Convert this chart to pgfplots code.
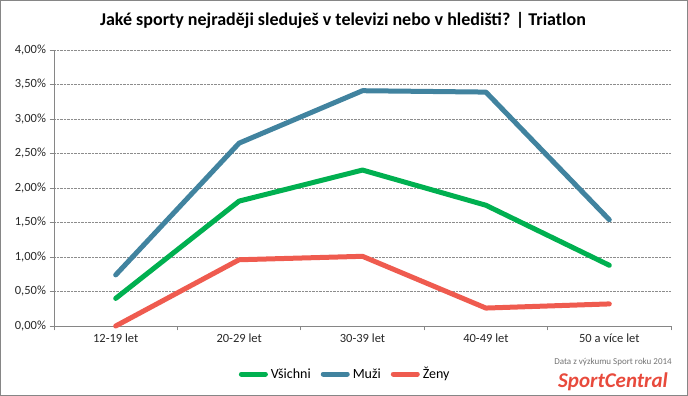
\documentclass[border=0pt]{standalone}
\usepackage{fontspec}
\setmainfont{Carlito}
\usepackage{pgfplots}
\pgfplotsset{compat=1.18}
\definecolor{cgreen}{HTML}{00B050}
\definecolor{cblue}{HTML}{41839F}
\definecolor{cred}{HTML}{EF5B4F}
\definecolor{axisgray}{HTML}{868686}
\definecolor{gridgray}{HTML}{8C8C8C}
\definecolor{logored}{HTML}{E84A3C}
\begin{document}
\begin{tikzpicture}
\useasboundingbox (0,0) rectangle (688pt,396pt);
\draw[axisgray, line width=1pt] (0.5pt,0.5pt) rectangle (687.5pt,395.5pt);
\begin{axis}[
  at={(54pt,70pt)}, anchor=south west,
  scale only axis, width=617pt, height=276pt,
  xmin=-0.5, xmax=4.5, ymin=0, ymax=4,
  clip=false,
  axis lines*=left,
  axis line style={draw=axisgray, line width=0.9pt},
  tick style={draw=axisgray, line width=0.9pt},
  tick align=outside, major tick length=4.5pt,
  xtick={-0.5,0.5,1.5,2.5,3.5,4.5}, xticklabels={},
  extra x ticks={0,1,2,3,4},
  extra x tick labels={12-19 let,20-29 let,30-39 let,40-49 let,50 a více let},
  extra x tick style={major tick length=0pt, xticklabel style={yshift=-4pt}},
  ytick={0,0.5,1,1.5,2,2.5,3,3.5,4},
  yticklabels={{0,00\%},{0,50\%},{1,00\%},{1,50\%},{2,00\%},{2,50\%},{3,00\%},{3,50\%},{4,00\%}},
  tick label style={font=\fontsize{12.5pt}{14pt}\selectfont, text=black!85},
  ymajorgrids, grid style={densely dotted, gridgray, line width=0.8pt},
  legend columns=3,
  legend style={at={(0.472,-0.174)}, anchor=center, draw=none, fill=none,
    font=\fontsize{14pt}{16pt}\selectfont,
    /tikz/every even column/.append style={column sep=8pt},
    /tikz/every odd column/.append style={column sep=1pt}},
  legend image code/.code={\draw[#1, line width=5pt, line cap=round] (0pt,0pt) -- (24pt,0pt);},
  every axis plot/.append style={line width=5pt, line cap=round, line join=round},
]
\addplot[cgreen] coordinates {(0,0.40) (1,1.81) (2,2.26) (3,1.75) (4,0.88)};
\addlegendentry{Všichni}
\addplot[cblue] coordinates {(0,0.74) (1,2.65) (2,3.41) (3,3.39) (4,1.54)};
\addlegendentry{Muži}
\addplot[cred] coordinates {(0,0.00) (1,0.96) (2,1.01) (3,0.26) (4,0.32)};
\addlegendentry{Ženy}
\end{axis}
\node[font=\bfseries\fontsize{18pt}{20pt}\selectfont] at (343pt,376pt) {Jaké sporty nejraději sleduješ v televizi nebo v hledišti? | Triatlon};
\node[font=\fontsize{9pt}{10pt}\selectfont, text=black!55] at (613pt,34pt) {Data z výzkumu Sport roku 2014};
\node[font=\bfseries\itshape\fontsize{21pt}{22pt}\selectfont, text=logored] at (613pt,14pt) {SportCentral};
\end{tikzpicture}
\end{document}
